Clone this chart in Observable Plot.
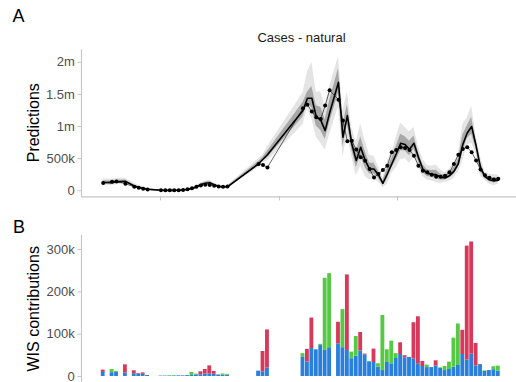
<!DOCTYPE html>
<html><head><meta charset="utf-8">
<script src="https://cdn.jsdelivr.net/npm/d3@7"></script>
<script src="https://cdn.jsdelivr.net/npm/@observablehq/plot@0.6"></script>
<style>
html,body{margin:0;padding:0;background:#fff;overflow:hidden;}
#root{position:relative;width:516px;height:382px;overflow:hidden;font-family:"Liberation Sans",Arial,sans-serif;}
#root svg{position:absolute;left:0;}
</style></head>
<body><div id="root"></div>
<script>
// ---- data (values in thousands) ----
const weeks = [0,2,3,5,7,8,9,10,
  13,14,15,16,17,18,19,20,21,22,23,24,25,26,27,28,
  35,36,37,
  45,46,47,48,49,50,51,
  53,54,55,56,57,58,59,60,61,62,63,64,65,66,67,68,69,70,71,72,73,74,75,76,77,78,79,80,81,82,83,84,85,86,87,88,89];
const observed = [120,140,145,109,62,47,31,20,
  5,5,5,6,8,12,22,40,62,80,92,90,78,66,63,65,
  417,401,363,
  1284,1340,1232,1144,1118,1326,1565,
  1418,1095,770,780,640,520,468,339,207,260,322,390,598,634,676,666,634,546,390,312,286,250,218,218,234,286,416,560,650,676,600,470,330,240,200,175,185];
const median = [128,125,138,145,72,50,35,22,
  6,5,4.5,5,7,11,20,32,58,95,115,125,92,66,58,61,
  420,490,560,
  1250,1440,1440,1150,1100,936,1210,
  1690,832,1170,728,470,676,475,338,338,245,114,260,416,572,738,718,645,738,520,338,270,255,250,210,198,234,300,420,720,900,1000,700,360,220,170,155,165];
const q05 = [81,80,91,105,40,23,10,10,
  1,0,0,0,0,4,10,20,38,75,85,95,67,49,43,46,
  357,436,459,
  1027,1272,1113,838,739,631,873,
  1309,526,865,520,232,379,223,166,175,136,45,97,268,361,481,500,422,535,372,221,166,151,126,116,129,152,191,291,463,709,739,576,221,161,101,76,102];
const q25 = [107,105,117,127,57,38,24,17,
  4,3,2,3,4,8,16,26,49,86,102,112,81,58,51,54,
  392,465,514,
  1149,1364,1292,1008,936,797,1057,
  1517,679,1031,634,362,541,360,260,264,196,83,186,349,476,621,619,544,646,453,285,223,208,194,167,167,197,251,362,603,813,881,644,297,193,139,119,137];
const q75 = [154,150,164,167,90,65,49,29,
  9,8,7,8,11,15,26,39,69,106,132,142,106,76,66,69,
  455,520,616,
  1374,1534,1622,1323,1301,1105,1397,
  1902,1019,1339,844,602,841,615,433,429,306,153,351,499,689,881,839,769,851,603,403,328,313,319,262,237,279,361,492,863,1006,1145,769,437,253,209,199,200];
const q95 = [185,179,195,193,111,83,65,36,
  12,11,10,11,16,20,32,47,82,119,151,161,122,87,76,79,
  496,557,684,
  1522,1850,2000,1531,1542,1308,1621,
  2090,1243,1542,982,760,1039,784,548,538,378,199,460,598,829,1053,984,917,986,702,481,397,382,401,325,283,334,433,577,1035,1134,1320,851,529,293,255,252,241];
const dispersion = [9.5,9,9.5,8,6.5,5.5,5,2.4,
  1,1,1,1,1.5,1.5,2,2.5,4,4,6,6,5,3.5,3,3,
  12.6,11,20.5,
  45,34,66,63,73,61.5,68,
  77,68,61.5,42,48,60,51,34.7,33,22,14,33,30,42.5,52,44,45,41,30,23.6,21,21,25,19,14,16.5,22,26,52,38.6,52.8,25,28,12,14,16,12.6];
const underprediction = [0,7.5,2.5,0,0,0,0,0,
  0,0,1,1.5,0,0,0,7,1.5,0,0,0,0,0,3,2,
  0,0,0,
  9,0,0,0,3,170.5,175,
  0,90,0,15.5,46.5,0,0,0,0,8,130,30,53.5,11.5,0,0,0,0,0,0,6,0,0,1.5,9.6,17.5,68.6,98,0,0,0,0,0,1.4,0,7,11.8];
const overprediction = [5.5,0,0,19.5,7,1.5,3.5,0,
  0,0,0,0,0,0,0,0,0,7,10.5,19,7,0,0,0,
  0,48,89.5,
  0,30,72,0,0,0,0,
  51,0,178.5,0,0,44,2,0,31.6,0,0,0,0,0,27.6,5,0,86,111,12,0,0,12,0,0,0,0,0,57,269.4,265,53,0,0,0,0,0];
const components = ["dispersion","underprediction","overprediction"];
const componentColors = ["#2A7FDA","#55C844","#D8385A"];

const xDomain = [-4.89, 93.1];
const xTicks = [12.9, 39.7, 66.3];
const yDomainA = [-96.7, 2195];
const yTicksA = [0, 500, 1000, 1500, 2000];
const yTickLabelsA = ["0","500k","1m","1.5m","2m"];
const yDomainB = [-15.9, 333.1];
const yTicksB = [0, 100, 200, 300];
const yTickLabelsB = ["0","100k","200k","300k"];

// ---- tables ----
const rows = weeks.map((w, i) => ({week: w, obs: observed[i], median: median[i],
  q05: q05[i], q25: q25[i], q75: q75[i], q95: q95[i]}));
const bars = [];
weeks.forEach((w, i) => {
  const d = dispersion[i], u = underprediction[i], o = overprediction[i];
  bars.push({week: w, component: "dispersion", y1: 0, y2: d});
  if (u > 0) bars.push({week: w, component: "underprediction", y1: d, y2: d + u});
  if (o > 0) bars.push({week: w, component: "overprediction", y1: d, y2: d + o});
});

const axisGrey = "#c4c4c4";
const style = {fontFamily: '"Liberation Sans", Arial, sans-serif', fontSize: "13px", background: "transparent", overflow: "visible"};

const plotA = Plot.plot({
  width: 516, height: 205, marginLeft: 81, marginRight: 0, marginTop: 49.3, marginBottom: 8.6,
  x: {domain: xDomain}, y: {domain: yDomainA}, style,
  marks: [
    Plot.areaY(rows, {x: "week", y1: "q05", y2: "q95", fill: "#e4e4e4"}),
    Plot.areaY(rows, {x: "week", y1: "q25", y2: "q75", fill: "#a8a8a8"}),
    Plot.line(rows, {x: "week", y: "obs", stroke: "#000", strokeWidth: 0.6}),
    Plot.dot(rows, {x: "week", y: "obs", r: 2, fill: "#000"}),
    Plot.line(rows, {x: "week", y: "median", stroke: "#000", strokeWidth: 1.6}),
    Plot.ruleX([xDomain[0]], {stroke: axisGrey, strokeWidth: 1.1}),
    Plot.ruleY([yDomainA[0]], {stroke: axisGrey, strokeWidth: 1.1}),
    Plot.axisY({ticks: yTicksA, tickFormat: v => yTickLabelsA[yTicksA.indexOf(v)], tickSize: 3.5, tickPadding: 3.2,
      stroke: axisGrey, fill: "#4d4d4d", fontSize: 13, label: null}),
    Plot.axisX({ticks: xTicks, tickFormat: () => "", tickSize: 4, stroke: axisGrey, label: null})
  ]
});
plotA.style.top = "0px";

const plotB = Plot.plot({
  width: 516, height: 190, marginLeft: 81, marginRight: 0, marginTop: 35, marginBottom: 7.3,
  x: {domain: xDomain}, y: {domain: yDomainB}, style,
  color: {domain: components, range: componentColors},
  marks: [
    Plot.rect(bars, {x1: d => d.week - 0.5, x2: d => d.week + 0.5, y1: "y1", y2: "y2", fill: "component",
      insetLeft: 0.3, insetRight: 0.3}),
    Plot.ruleX([xDomain[0]], {stroke: axisGrey, strokeWidth: 1.1}),
    Plot.ruleY([yDomainB[0]], {stroke: axisGrey, strokeWidth: 1.1}),
    Plot.axisY({ticks: yTicksB, tickFormat: v => yTickLabelsB[yTicksB.indexOf(v)], tickSize: 3.5, tickPadding: 3.2,
      stroke: axisGrey, fill: "#4d4d4d", fontSize: 13, label: null}),
    Plot.axisX({ticks: xTicks, tickFormat: () => "", tickSize: 4, stroke: axisGrey, label: null})
  ]
});
plotB.style.top = "200px";

const root = document.getElementById("root");
root.appendChild(plotA);
root.appendChild(plotB);

// overlay with panel tags, title and axis titles
const ns = "http://www.w3.org/2000/svg";
const ov = document.createElementNS(ns, "svg");
ov.setAttribute("width", 516); ov.setAttribute("height", 382);
ov.style.top = "0px";
ov.style.fontFamily = '"Liberation Sans", Arial, sans-serif';
function txt(s, x, y, size, opts = {}) {
  const t = document.createElementNS(ns, "text");
  t.textContent = s;
  t.setAttribute("x", x); t.setAttribute("y", y);
  t.setAttribute("font-size", size);
  t.setAttribute("fill", opts.fill || "#000");
  if (opts.anchor) t.setAttribute("text-anchor", opts.anchor);
  if (opts.rotate) t.setAttribute("transform", `rotate(-90 ${x} ${y})`);
  ov.appendChild(t);
}
txt("A", 12.5, 21.7, 18);
txt("B", 13, 232.7, 18);
txt("Cases - natural", 301.5, 41.5, 13, {anchor: "middle", fill: "#1a1a1a"});
txt("Predictions", 39, 122.7, 16, {anchor: "middle", rotate: true});
txt("WIS contributions", 39, 308.8, 16, {anchor: "middle", rotate: true});
root.appendChild(ov);
</script>
</body></html>
